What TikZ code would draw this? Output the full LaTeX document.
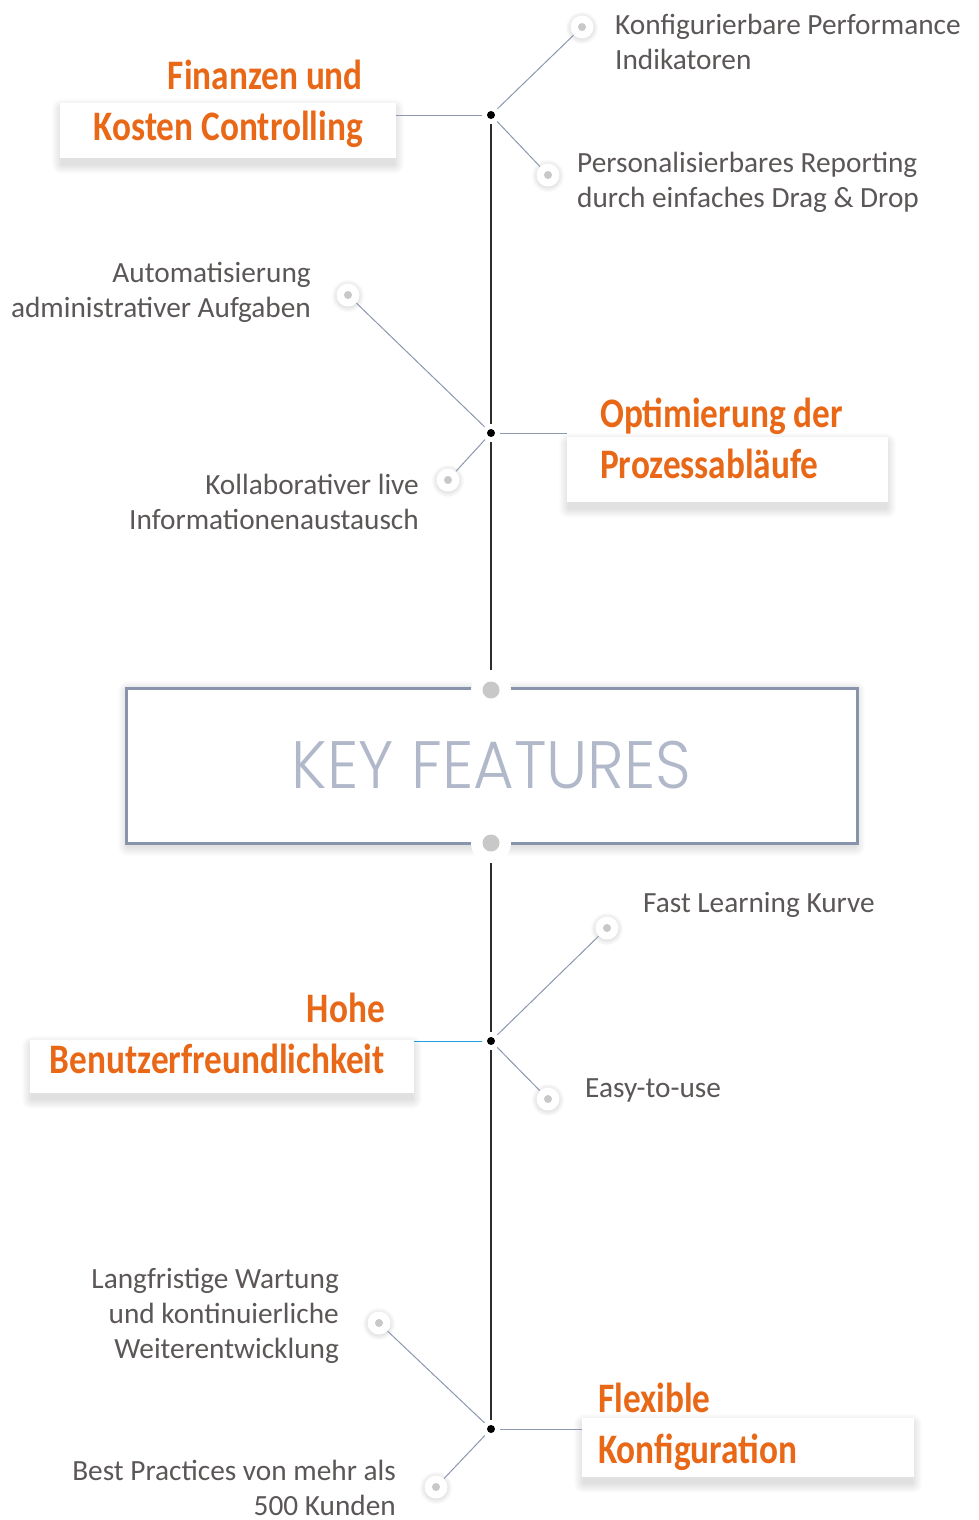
\documentclass[tikz,border=0pt]{standalone}
\usepackage{fontspec}
\setmainfont{Carlito}
\newfontfamily\headfont{Carlito}[FakeStretch=0.84,UprightFont=*-Bold]
\IfFontExistsTF{Poppins Light}{\newfontfamily\keyfont{Poppins Light}[FakeStretch=0.93]}{\newfontfamily\keyfont{Poppins}[FakeStretch=0.93]}
\definecolor{hdorange}{RGB}{233,104,23}
\definecolor{txtgrey}{RGB}{92,87,87}
\definecolor{branch}{RGB}{140,152,176}
\definecolor{stem}{RGB}{45,45,45}
\definecolor{dotgrey}{RGB}{200,200,200}
\definecolor{keyborder}{RGB}{136,148,172}
\definecolor{keytext}{RGB}{176,184,202}
\definecolor{blueline}{RGB}{27,161,226}
\newcommand\mybxshadow[5]{% x1 y1 x2 y2 yshift
  \foreach \i in {1,...,10}{\fill[black, opacity=0.011, rounded corners=\i pt]
    (#1-\i+2, #2-\i+#5) rectangle (#3+\i-2, #4+\i+#5);}}
\newcommand\mydotshadow[2]{%
  \foreach \i in {1,...,5}{\fill[black, opacity=0.018] (#1,#2+1) circle (11+\i);}}
\begin{document}
\begin{tikzpicture}[x=1pt,y=-1pt,
  hbox/.style={fill=white, draw=none, inner sep=0, anchor=north west},
  head/.style={inner sep=0, text=hdorange, font=\headfont\fontsize{42}{51}\selectfont},
  body/.style={inner sep=0, text=txtgrey, font=\fontsize{29.3}{35}\selectfont},
  bdot/.style={circle, fill=black, inner sep=0, minimum size=8pt, outer sep=5pt},
  sdot/.style={circle, fill=white, inner sep=0, minimum size=23pt,
    path picture={\fill[dotgrey] (path picture bounding box.center) circle (4pt);}},
  kdot/.style={circle, fill=white, inner sep=0, minimum size=40pt,
    path picture={\fill[dotgrey] (path picture bounding box.center) circle (8.5pt);}},
  branchline/.style={draw=branch, line width=1pt},
  stemline/.style={draw=stem, line width=1.5pt}]
\useasboundingbox[fill=white] (0,0) rectangle (978,1520);

% shadows
\mybxshadow{60}{103}{396}{158}{6}
\mybxshadow{567}{437}{888}{502}{6}
\mybxshadow{30}{1040}{414}{1093}{6}
\mybxshadow{582}{1418}{914}{1477}{6}
\mybxshadow{126}{688}{857}{843}{3}

% heading boxes
\node[hbox, minimum width=336pt, minimum height=55pt] (b1) at (60,103) {};
\node[hbox, minimum width=321pt, minimum height=65pt] (b2) at (567,437) {};
\node[hbox, minimum width=384pt, minimum height=53pt] (b3) at (30,1040) {};
\node[hbox, minimum width=332pt, minimum height=59pt] (b4) at (582,1418) {};

% key features box
\node[draw=keyborder, line width=3pt, fill=white, minimum width=731pt, minimum height=155pt, inner sep=0,
  text=keytext, font=\keyfont\fontsize{67}{80}\selectfont] (key) at (491.5,765.5) {KEY\hspace{1pt} FEATURES};
\node[kdot] (k1) at (491,690) {};
\node[kdot] (k2) at (491,843) {};

% junction dots
\node[bdot] (d1) at (491,115) {};
\node[bdot] (d2) at (491,433) {};
\node[bdot] (d3) at (491,1041) {};
\node[bdot] (d4) at (491,1429) {};

% small circles
\mydotshadow{582}{27}
\mydotshadow{548}{175}
\mydotshadow{348}{295}
\mydotshadow{448}{480}
\mydotshadow{607}{928}
\mydotshadow{548}{1099}
\mydotshadow{379}{1323}
\mydotshadow{436}{1487}
\node[sdot] (c1a) at (582,27) {};
\node[sdot] (c1b) at (548,175) {};
\node[sdot] (c2a) at (348,295) {};
\node[sdot] (c2b) at (448,480) {};
\node[sdot] (c3a) at (607,928) {};
\node[sdot] (c3b) at (548,1099) {};
\node[sdot] (c4a) at (379,1323) {};
\node[sdot] (c4b) at (436,1487) {};

% stem
\draw[stemline] (d1) -- (d2);
\draw[stemline] (d2) -- (k1);
\draw[stemline] (k2) -- (d3);
\draw[stemline] (d3) -- (d4);

% branches
\draw[branchline] (d1) -- (b1.east |- d1);
\draw[branchline] (d1) -- (c1a);
\draw[branchline] (d1) -- (c1b);
\draw[branchline] (d2) -- (b2.west |- d2);
\draw[branchline] (d2) -- (c2a);
\draw[branchline] (d2) -- (c2b);
\draw[draw=blueline, line width=1pt] (d3) -- (b3.east |- d3);
\draw[branchline] (d3) -- (c3a);
\draw[branchline] (d3) -- (c3b);
\draw[branchline] (d4) -- (b4.west |- d4);
\draw[branchline] (d4) -- (c4a);
\draw[branchline] (d4) -- (c4b);

% headings
\node[head, anchor=base east] (h1) at (363,89) {\begin{tabular}[t]{@{}r@{}}Finanzen und\\Kosten Controlling\end{tabular}};
\node[head, anchor=base west] (h2) at (600,427) {\begin{tabular}[t]{@{}l@{}}Optimierung der\\Prozessabläufe\end{tabular}};
\node[head, anchor=base east] (h3) at (385,1022) {\begin{tabular}[t]{@{}r@{}}Hohe\\Benutzerfreundlichkeit\end{tabular}};
\node[head, anchor=base west] (h4) at (598,1412) {\begin{tabular}[t]{@{}l@{}}Flexible\\Konfiguration\end{tabular}};

% feature texts
\node[body, anchor=base west] (t1) at (615,35) {\begin{tabular}[t]{@{}l@{}}Konfigurierbare Performance\\Indikatoren\end{tabular}};
\node[body, anchor=base west] (t2) at (577,172) {\begin{tabular}[t]{@{}l@{}}Personalisierbares Reporting\\durch einfaches Drag \& Drop\end{tabular}};
\node[body, anchor=base east] (t3) at (311,282) {\begin{tabular}[t]{@{}r@{}}Automatisierung\\administrativer Aufgaben\end{tabular}};
\node[body, anchor=base east] (t4) at (419,494) {\begin{tabular}[t]{@{}r@{}}Kollaborativer live\\Informationenaustausch\end{tabular}};
\node[body, anchor=base west] (t5) at (643,912) {Fast Learning Kurve};
\node[body, anchor=base west] (t6) at (585,1097) {Easy-to-use};
\node[body, anchor=base east] (t7) at (339,1288) {\begin{tabular}[t]{@{}r@{}}Langfristige Wartung\\und kontinuierliche\\Weiterentwicklung\end{tabular}};
\node[body, anchor=base east] (t8) at (396,1480) {\begin{tabular}[t]{@{}r@{}}Best Practices von mehr als\\500 Kunden\end{tabular}};
\end{tikzpicture}
\end{document}
